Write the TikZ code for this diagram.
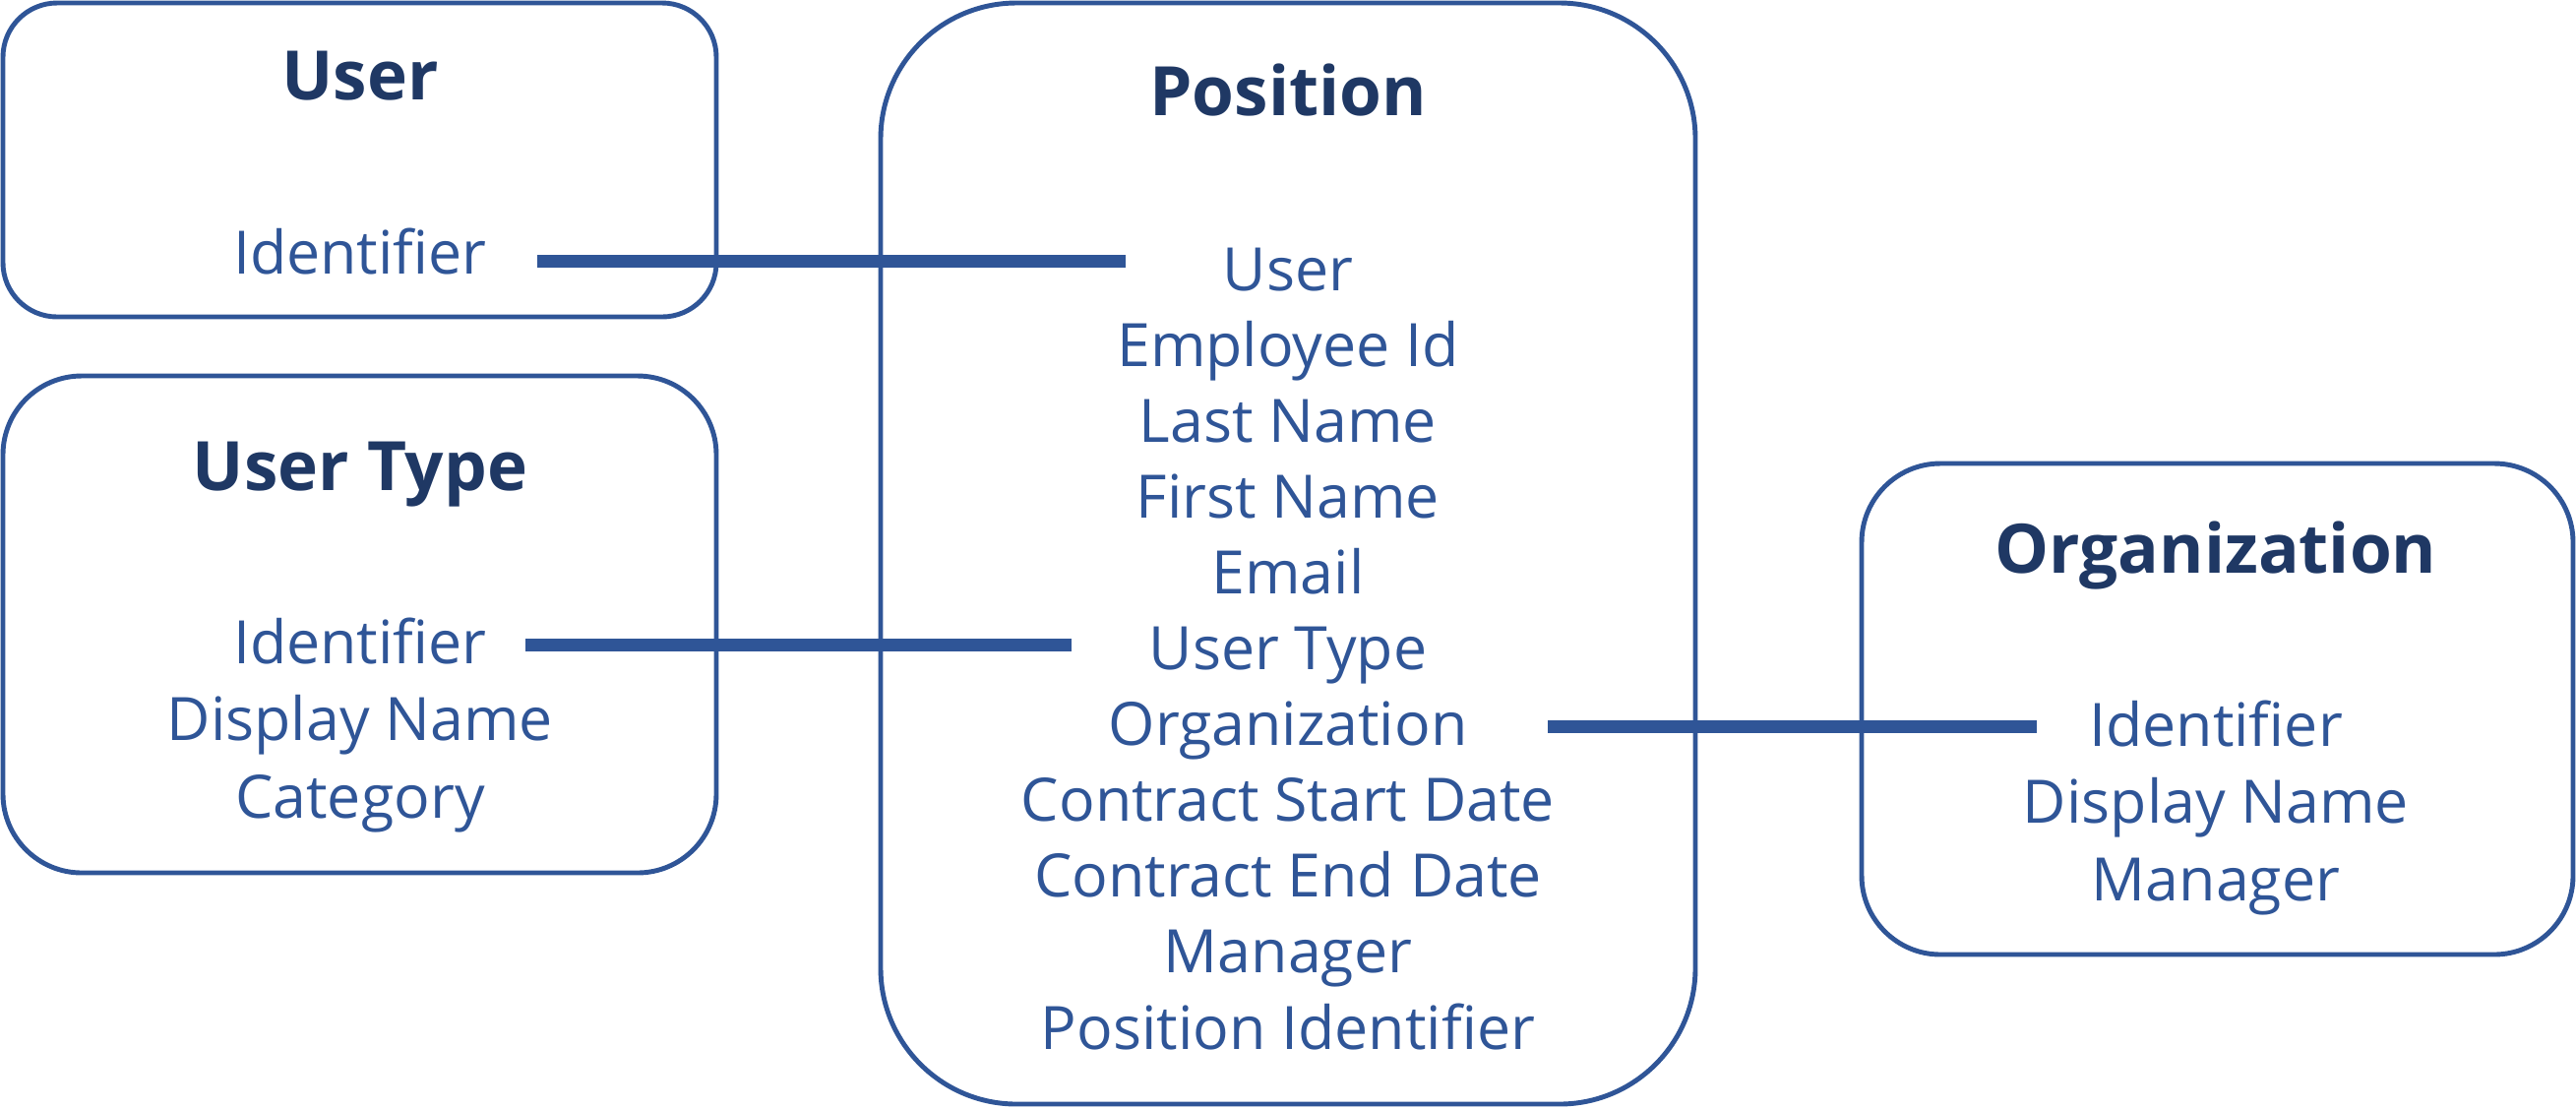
\documentclass[tikz,border=0pt]{standalone}
\usepackage{fontspec}
\setmainfont{Open Sans}
\definecolor{boxblue}{HTML}{2F5597}
\definecolor{titleblue}{HTML}{1F3864}
\begin{document}
\begin{tikzpicture}[x=0.01cm,y=-0.01cm,
	entity/.style={draw=boxblue,line width=1.4pt},
	title/.style={anchor=base,text=titleblue,font=\fontsize{19.7}{24}\selectfont\bfseries},
	field/.style={anchor=base,text=boxblue,font=\fontsize{17.3}{21}\selectfont},
	link/.style={draw=boxblue,line width=3.7pt}]
	\useasboundingbox (0,0) rectangle (2618,1126);
	% entity boxes
	\draw[entity,rounded corners=0.55cm] (3,3) rectangle (728,322);
	\draw[entity,rounded corners=0.8cm] (3,382) rectangle (728,887);
	\draw[entity,rounded corners=1.38cm] (895,3) rectangle (1723,1122);
	\draw[entity,rounded corners=0.8cm] (1892,471) rectangle (2615,970);
	% titles
	\node[title] (user) at (366,101) {User};
	\node[title] (usertype) at (366,498) {User Type};
	\node[title] (position) at (1309,117) {Position};
	\node[title] (organization) at (2252,582) {Organization};
	% fields
	\node[field] (user-id) at (366,278) {Identifier};
	\foreach \name [count=\i from 0] in {Identifier,Display Name,Category}
		\node[field] (ut-\i) at (366,674+78.5*\i) {\name};
	\foreach \name [count=\i from 0] in {User,Employee Id,Last Name,First Name,Email,User Type,Organization,Contract Start Date,Contract End Date,Manager,Position Identifier}
		\node[field] (pos-\i) at (1309,295+77.1*\i) {\name};
	\foreach \name [count=\i from 0] in {Identifier,Display Name,Manager}
		\node[field] (org-\i) at (2252,758+78.5*\i) {\name};
	% connectors
	\coordinate (l1a) at (546,265);
	\coordinate (l1b) at (1144,265);
	\coordinate (l2a) at (534,655);
	\coordinate (l2b) at (1089,655);
	\coordinate (l3a) at (1573,738);
	\coordinate (l3b) at (2070,738);
	\draw[link] (l1a) -- (l1b);
	\draw[link] (l2a) -- (l2b);
	\draw[link] (l3a) -- (l3b);
\end{tikzpicture}
\end{document}
